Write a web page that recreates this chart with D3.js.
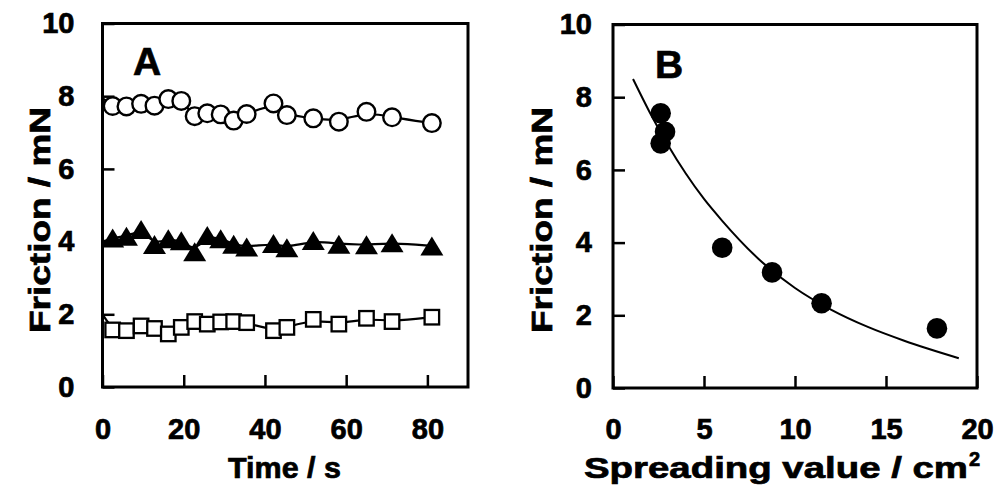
<!DOCTYPE html>
<html>
<head>
<meta charset="utf-8">
<script src="https://cdn.jsdelivr.net/npm/d3@7"></script>
<style>
  html, body { margin: 0; padding: 0; background: #fff; }
  svg { display: block; font-family: "Liberation Sans", Arial, sans-serif; font-weight: bold; }
  svg text { fill: #000; stroke: #000; stroke-width: 0.7px; }
</style>
</head>
<body>
<svg id="chart" width="996" height="494"></svg>
<script>
// Panel A: friction vs time for three samples
const timeA = [2.5, 5.9, 9.5, 12.8, 16.2, 19.4, 22.7, 25.8, 29.1, 32.3, 35.5, 42.1, 45.4, 51.9, 58.2, 65.0, 71.3, 81.1];
const circlesA = [7.73, 7.72, 7.79, 7.74, 7.92, 7.87, 7.45, 7.53, 7.50, 7.33, 7.51, 7.80, 7.48, 7.39, 7.30, 7.57, 7.42, 7.26];
const trianglesA = [4.10, 4.15, 4.33, 3.92, 4.08, 4.02, 3.72, 4.17, 4.08, 3.93, 3.85, 3.95, 3.83, 4.03, 3.93, 3.91, 3.97, 3.88];
const squaresA = [1.57, 1.55, 1.68, 1.61, 1.46, 1.64, 1.80, 1.73, 1.79, 1.80, 1.77, 1.55, 1.64, 1.86, 1.73, 1.89, 1.80, 1.92];
// where each trend line meets the left axis (t = 0)
const lineStartA = [7.95, 4.0, 2.0];
const ticksXA = [0, 20, 40, 60, 80];
const ticksY = [0, 2, 4, 6, 8, 10];

// Panel B: friction vs spreading value, with fitted decay curve
const spreadB = [2.62, 2.86, 2.62, 6.0, 8.74, 11.46, 17.8];
const frictionB = [7.56, 7.05, 6.73, 3.86, 3.18, 2.33, 1.64];
const fitX = [1.1, 2, 3, 4, 5, 6, 8, 10, 12, 14, 16, 19];
const fitY = [8.5, 7.6, 6.7, 5.9, 5.2, 4.6, 3.55, 2.75, 2.15, 1.68, 1.3, 0.82];
const ticksXB = [0, 5, 10, 15, 20];

const svg = d3.select("#chart");
const FS = 29;

function panel(opts) {
  const g = svg.append("g");
  const x = d3.scaleLinear().domain(opts.xDomain).range(opts.xRange);
  const y = d3.scaleLinear().domain([0, 10]).range(opts.yRange);

  const yAxis = d3.axisLeft(y).tickValues(ticksY).tickFormat(d3.format("d"))
    .tickSizeInner(-12).tickSizeOuter(0).tickPadding(opts.yPad);
  const xAxis = d3.axisBottom(x).tickValues(opts.xTicks).tickFormat(d3.format("d"))
    .tickSizeInner(-12).tickSizeOuter(0).tickPadding(opts.xPad);

  const ya = g.append("g").attr("transform", `translate(${opts.xRange[0]},0)`).call(yAxis);
  const xa = g.append("g").attr("transform", `translate(0,${opts.yRange[0]})`).call(xAxis);
  [ya, xa].forEach(a => {
    a.attr("font-family", null).attr("font-size", null);
    a.select(".domain").remove();
    a.selectAll(".tick line").attr("stroke", "#000").attr("stroke-width", 2.5);
    a.selectAll(".tick text").attr("fill", "#000").attr("font-size", FS);
  });
  xa.selectAll(".tick text").attr("dy", "0.71em");

  g.append("rect")
    .attr("x", opts.xRange[0]).attr("y", opts.yRange[1])
    .attr("width", opts.xRange[1] - opts.xRange[0])
    .attr("height", opts.yRange[0] - opts.yRange[1])
    .attr("fill", "none").attr("stroke", "#000").attr("stroke-width", 3);

  return { g, x, y };
}

// ---------- Panel A ----------
const A = panel({
  xDomain: [0, 90], xRange: [102.5, 468], yRange: [387, 23.5],
  xTicks: ticksXA, yPad: 28, xPad: 31
});

const seriesA = [circlesA, trianglesA, squaresA];
const lineA = d3.line().x(d => A.x(d[0])).y(d => A.y(d[1])).curve(d3.curveBasis);
seriesA.forEach((vals, i) => {
  const pts = [[0, lineStartA[i]]].concat(timeA.map((t, j) => [t, vals[j]]));
  A.g.append("path").attr("d", lineA(pts))
    .attr("fill", "none").attr("stroke", "#000").attr("stroke-width", 2.2);
});

// open circles
A.g.selectAll("circle.c").data(timeA.map((t, j) => [t, circlesA[j]])).join("circle")
  .attr("cx", d => A.x(d[0])).attr("cy", d => A.y(d[1])).attr("r", 8.8)
  .attr("fill", "#fff").attr("stroke", "#000").attr("stroke-width", 2.4);

// filled triangles
const triW = 23, triH = 19;
A.g.selectAll("path.t").data(timeA.map((t, j) => [t, trianglesA[j]])).join("path")
  .attr("d", d => {
    const cx = A.x(d[0]), cy = A.y(d[1]);
    return `M${cx},${cy - triH / 2}L${cx + triW / 2},${cy + triH / 2}L${cx - triW / 2},${cy + triH / 2}Z`;
  })
  .attr("fill", "#000");

// open squares
const sq = 14.5;
A.g.selectAll("rect.s").data(timeA.map((t, j) => [t, squaresA[j]])).join("rect")
  .attr("x", d => A.x(d[0]) - sq / 2).attr("y", d => A.y(d[1]) - sq / 2)
  .attr("width", sq).attr("height", sq)
  .attr("fill", "#fff").attr("stroke", "#000").attr("stroke-width", 2.3);

A.g.append("text").attr("x", 133).attr("y", 75).attr("font-size", 39).text("A");

// ---------- Panel B ----------
const B = panel({
  xDomain: [0, 20], xRange: [613, 977], yRange: [388, 24.5],
  xTicks: ticksXB, yPad: 21, xPad: 30
});

const lineB = d3.line().x(d => B.x(d[0])).y(d => B.y(d[1])).curve(d3.curveMonotoneX);
B.g.append("path").attr("d", lineB(fitX.map((v, i) => [v, fitY[i]])))
  .attr("fill", "none").attr("stroke", "#000").attr("stroke-width", 2);

B.g.selectAll("circle.p").data(spreadB.map((v, i) => [v, frictionB[i]])).join("circle")
  .attr("cx", d => B.x(d[0])).attr("cy", d => B.y(d[1])).attr("r", 10.3).attr("fill", "#000");

B.g.append("text").attr("x", 655).attr("y", 78).attr("font-size", 39).text("B");

// ---------- Axis titles ----------
svg.append("text").attr("x", 228).attr("y", 478)
  .attr("font-size", FS).attr("textLength", 113).attr("lengthAdjust", "spacingAndGlyphs")
  .text("Time / s");

const tB = svg.append("text").attr("x", 584).attr("y", 478).attr("font-size", FS);
tB.append("tspan").attr("textLength", 384).attr("lengthAdjust", "spacingAndGlyphs")
  .text("Spreading value / cm");
tB.append("tspan").attr("font-size", 20).attr("dx", 1).attr("dy", -12).text("2");

svg.append("text").attr("transform", "translate(50,220) rotate(-90)")
  .attr("x", -113).attr("font-size", FS)
  .attr("textLength", 226).attr("lengthAdjust", "spacingAndGlyphs").text("Friction / mN");
svg.append("text").attr("transform", "translate(552,220) rotate(-90)")
  .attr("x", -113).attr("font-size", FS)
  .attr("textLength", 226).attr("lengthAdjust", "spacingAndGlyphs").text("Friction / mN");
</script>
</body>
</html>
